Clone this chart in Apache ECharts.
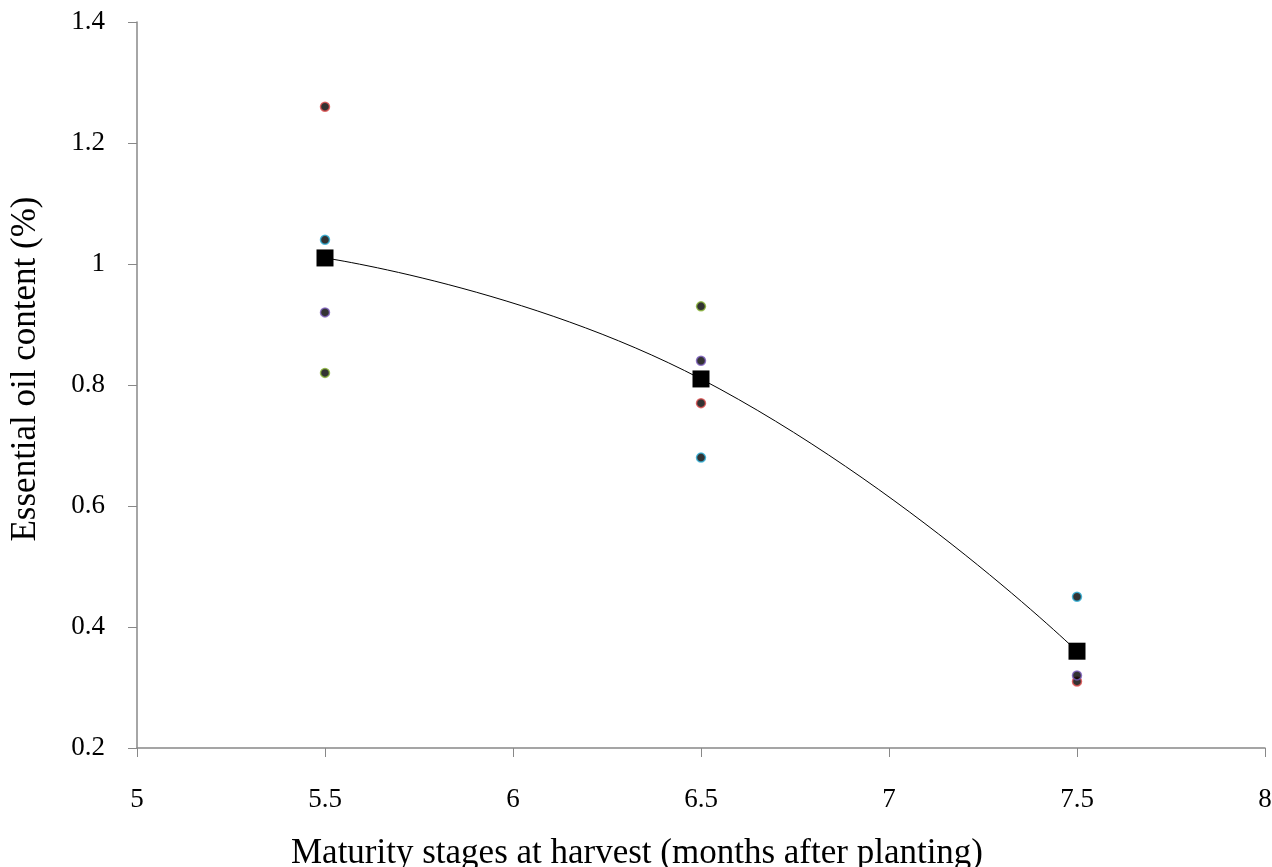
<!DOCTYPE html>
<html>
<head>
<meta charset="utf-8">
<script src="https://cdn.jsdelivr.net/npm/echarts@6/dist/echarts.min.js"></script>
<style>
html, body { margin: 0; padding: 0; background: #fff; }
#chart { width: 1272px; height: 867px; }
</style>
</head>
<body>
<div id="chart"></div>
<script>
var stages = [5.5, 6.5, 7.5];
var rep1 = [1.26, 0.77, 0.31];
var rep2 = [1.04, 0.68, 0.45];
var rep3 = [0.92, 0.84, 0.32];
var rep4 = [0.82, 0.93, 0.36];
var means = [1.01, 0.81, 0.36];

function pairs(ys) {
    return stages.map(function (x, i) { return [x, ys[i]]; });
}

function dots(name, ys, edge) {
    return {
        name: name,
        type: 'scatter',
        data: pairs(ys),
        symbol: 'circle',
        symbolSize: 9,
        itemStyle: { color: '#000', borderColor: edge, borderWidth: 1.5 },
        z: 3
    };
}

var font = 'Liberation Serif, Times New Roman, serif';
var chart = echarts.init(document.getElementById('chart'));

var option = {
    animation: false,
    grid: { left: 137, right: 7, top: 22, bottom: 119, outerBoundsMode: 'none', containLabel: false },
    xAxis: {
        type: 'value',
        min: 5,
        max: 8,
        interval: 0.5,
        name: 'Maturity stages at harvest (months after planting)',
        nameLocation: 'middle',
        nameGap: 88,
        nameTextStyle: { fontFamily: font, fontSize: 35, color: '#000', padding: [0, 128, 0, 0] },
        axisLine: { lineStyle: { color: '#888', width: 1.5 } },
        axisTick: { show: true, length: 9, lineStyle: { color: '#888' } },
        axisLabel: { fontFamily: font, fontSize: 27, color: '#000', margin: 38 },
        splitLine: { show: false }
    },
    yAxis: {
        type: 'value',
        min: 0.2,
        max: 1.4,
        interval: 0.2,
        name: 'Essential oil content (%)',
        nameLocation: 'middle',
        nameGap: 94,
        nameTextStyle: { fontFamily: font, fontSize: 35, color: '#000', padding: [0, 0, 0, 32] },
        axisLine: { show: true, lineStyle: { color: '#888', width: 1.5 } },
        axisTick: { show: true, length: 9, lineStyle: { color: '#888' } },
        axisLabel: { fontFamily: font, fontSize: 27, color: '#000', margin: 32 },
        splitLine: { show: false }
    },
    series: [
        dots('rep4', rep4, '#8cb83a'),
        dots('rep1', rep1, '#e05050'),
        dots('rep3', rep3, '#8060c0'),
        dots('rep2', rep2, '#30b0d8'),
        {
            name: 'mean',
            type: 'line',
            data: pairs(means),
            smooth: 0.5,
            symbol: 'rect',
            symbolSize: 17,
            showAllSymbol: true,
            lineStyle: { color: '#000', width: 1 },
            itemStyle: { color: '#000' },
            z: 5
        }
    ]
};

chart.setOption(option);
</script>
</body>
</html>
